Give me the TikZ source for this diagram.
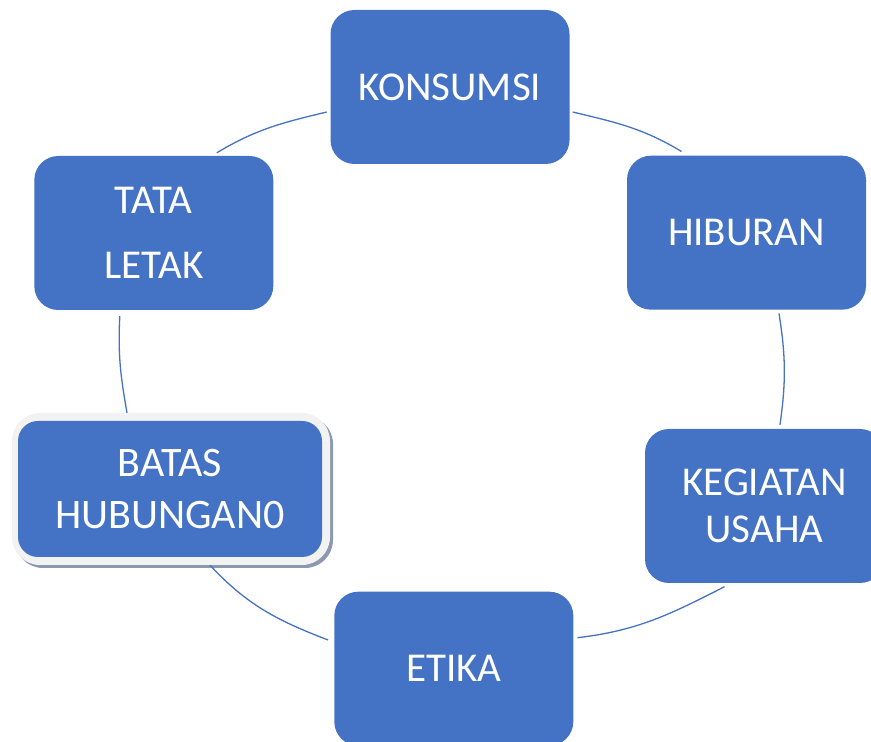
\documentclass[tikz,border=0pt]{standalone}
\usepackage{fontspec}
\setmainfont{Carlito}
\definecolor{cycleblue}{RGB}{68,114,196}
\definecolor{framegrey}{RGB}{242,242,242}
\definecolor{shadegrey}{RGB}{140,152,175}
\usetikzlibrary{arrows.meta,positioning,calc}
\newcommand{\cyclefont}[2]{\fontsize{#1}{#2}\selectfont}

\begin{document}
\begin{tikzpicture}[x=1pt,y=1pt,
  cyclebox/.style={fill=cycleblue,rounded corners=24pt,minimum width=239pt,
    minimum height=154pt,inner sep=0pt,text=white,align=center,font=\cyclefont{41}{49}},
  cyclearc/.style={draw=cycleblue,line width=1.3pt}]
  \useasboundingbox (0,0) rectangle (871,742);
  \clip (0,0) rectangle (871,742);
  % Frame and shadow round the selected box
  \fill[shadegrey,rounded corners=28pt] (15,174) rectangle (333,326);
  \fill[framegrey,rounded corners=28pt] (12,177) rectangle (330,329);
  % Boxes of the cycle
  \node[cyclebox] (konsumsi) at (450,655) {KONSUMSI};
  \node[cyclebox] (hiburan) at (746.5,509.3) {HIBURAN};
  \node[cyclebox,font=\cyclefont{41}{47}] (kegiatan) at (764.5,236) {KEGIATAN\\USAHA};
  \node[cyclebox] (etika) at (453.8,73.3) {ETIKA};
  \node[cyclebox,minimum width=304pt,minimum height=136pt,rounded corners=20pt,
    font=\cyclefont{42}{52}] (batas) at (170,253) {BATAS\\HUBUNGAN0};
  \node[cyclebox,font=\cyclefont{41}{65}] (tata) at (153.8,509) {TATA\\LETAK};
  % Arcs between the boxes
  \draw[cyclearc] ([shift={(63,3)}]tata.north) to[out=31,in=193.5] ([shift={(-3.5,-25)}]konsumsi.west);
  \draw[cyclearc] ([shift={(3,-25)}]konsumsi.east) to[out=-13.5,in=149] ([shift={(-65,4)}]hiburan.north);
  \draw[cyclearc] ([shift={(32.5,-3.5)}]hiburan.south) to[out=-81,in=82] ([shift={(15.5,4)}]kegiatan.north);
  \draw[cyclearc] ([shift={(-40,-3.5)}]kegiatan.south) to[out=207,in=6.7] ([shift={(4,31)}]etika.east);
  \draw[cyclearc] ([shift={(-6,28.7)}]etika.west) to[out=159,in=313] ([shift={(40,-8)}]batas.south);
  \draw[cyclearc] ([shift={(-43,8)}]batas.north) to[out=100,in=267] ([shift={(-34,-6)}]tata.south);
\end{tikzpicture}
\end{document}
